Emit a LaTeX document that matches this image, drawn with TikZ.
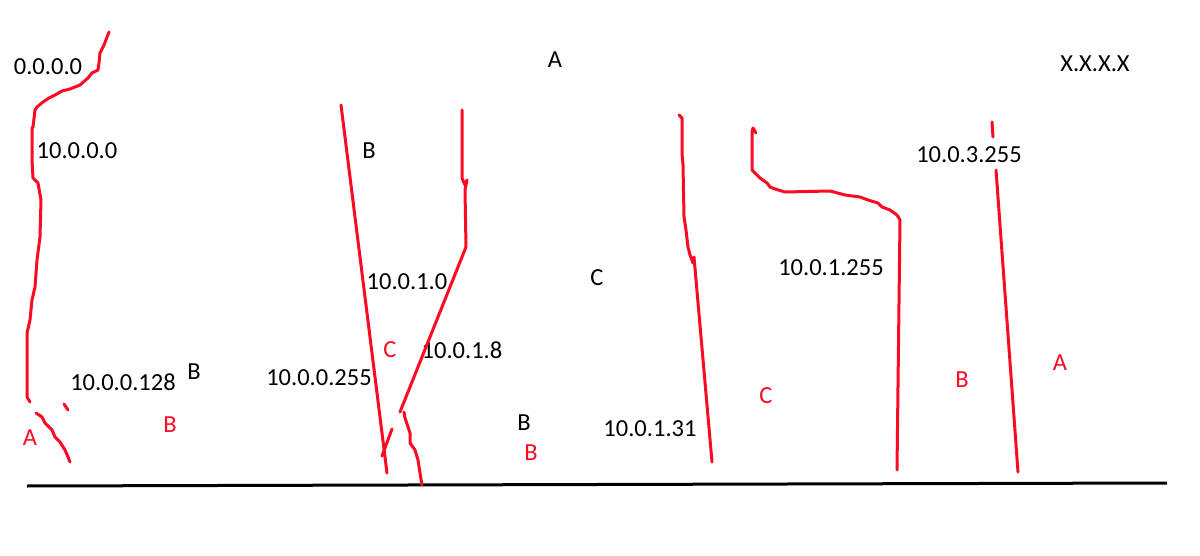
\documentclass[tikz,border=0pt]{standalone}
\usepackage{fontspec}
\setmainfont{Carlito}
\definecolor{pen}{RGB}{250,10,35}
\begin{document}
\begin{tikzpicture}[x=1pt,y=-1pt,
  lbl/.style={font=\fontsize{24.5}{27}\selectfont, inner sep=0pt, text=black},
  rlbl/.style={lbl, text=pen},
  stroke/.style={draw=pen, line width=3pt, line join=round, line cap=round}]
\useasboundingbox (0,0) rectangle (1200,556);
% baseline
\coordinate (b1) at (27,486);
\coordinate (b2) at (1167,483);
\draw[line width=3pt] (b1) -- (b2);
% labels
\node[lbl] (t0) at (48,67) {0.0.0.0};
\node[lbl] (t1) at (77,151) {10.0.0.0};
\node[lbl] (tA) at (555,60) {A};
\node[lbl] (tX) at (1095,64) {X.X.X.X};
\node[lbl] (tB1) at (369,151) {B};
\node[lbl] (t3255) at (969,155) {10.0.3.255};
\node[lbl] (t10) at (407,282) {10.0.1.0};
\node[lbl] (tC1) at (597,278) {C};
\node[lbl] (t1255) at (831,268) {10.0.1.255};
\node[rlbl] (rC1) at (390,350) {C};
\node[lbl] (t18) at (462,350) {10.0.1.8};
\node[rlbl] (rA2) at (1060,363) {A};
\node[rlbl] (rB3) at (962,380) {B};
\node[lbl] (t128) at (123,382) {10.0.0.128};
\node[lbl] (tB2) at (194,372) {B};
\node[lbl] (t0255) at (319,378) {10.0.0.255};
\node[rlbl] (rC2) at (766,396) {C};
\node[lbl] (tB3) at (524,423) {B};
\node[rlbl] (rB2) at (531,453) {B};
\node[lbl] (t131) at (650,429) {10.0.1.31};
\node[rlbl] (rA1) at (30,438) {A};
\node[rlbl] (rB1) at (170,425) {B};
% red strokes
\draw[stroke] (109,32) -- (104,45) -- (100,53) -- (99,63) -- (98,70) -- (92,73) -- (88,78) -- (80,85) -- (70,89) -- (62,91) -- (55,95) -- (49,98) -- (43,102) -- (37,107) -- (35,110) -- (33,127) -- (32,128) -- (32,160) -- (33,178) -- (38,183) -- (41,200) -- (40,237) -- (37,260) -- (35,287) -- (32,300) -- (30,320) -- (27,333) -- (27,397) -- (30,402);
\draw[stroke] (64,404) -- (68,410);
\draw[stroke] (36,413) -- (42,417) -- (45,423) -- (52,430) -- (55,437) -- (60,442) -- (65,450) -- (68,457) -- (70,462);
\draw[stroke] (341,105) -- (387,473);
\draw[stroke] (392,429) -- (382,456);
\draw[stroke] (462,110) -- (462,178) -- (465,185) -- (467,180) -- (465,190) -- (466,247) -- (400,412);
\draw[stroke] (404,412) -- (405,418) -- (410,433) -- (410,443) -- (415,450) -- (418,460) -- (420,473) -- (422,485);
\draw[stroke] (679,115) -- (682,118) -- (682,153) -- (683,165) -- (684,217) -- (686,230) -- (688,247) -- (690,255) -- (693,263) -- (694,257) -- (712,462);
\draw[stroke] (756,133) -- (753,128) -- (752,132) -- (752,170) -- (755,173) -- (760,178) -- (767,183) -- (770,187) -- (775,189) -- (785,192) -- (830,191) -- (845,195) -- (860,197) -- (868,200) -- (878,203) -- (882,207) -- (890,210) -- (897,215) -- (900,220) -- (897,470);
\draw[stroke] (992,122) -- (993,137);
\draw[stroke] (996,170) -- (1018,472);
\end{tikzpicture}
\end{document}
